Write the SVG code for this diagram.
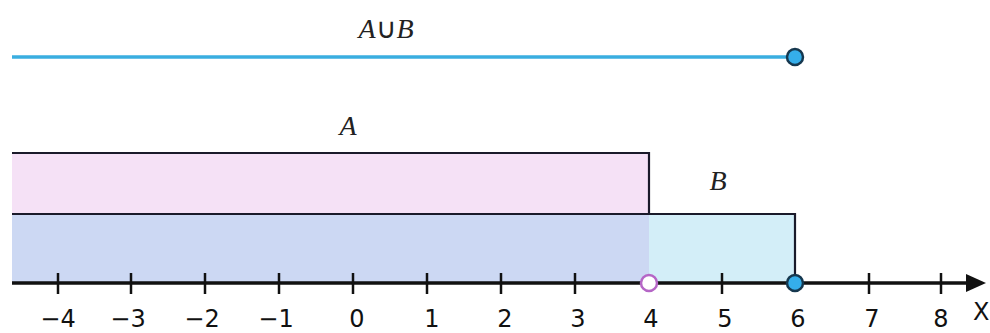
<svg xmlns="http://www.w3.org/2000/svg" width="990" height="333" viewBox="0 0 990 333">
<style>
.edge{stroke:#1a1a2a;stroke-width:2.2;fill:none}
.tick{stroke:#111;stroke-width:2.5}
.num{font-family:"DejaVu Sans",sans-serif;font-size:24px;fill:#111;text-anchor:middle}
.lbl{font-family:"Liberation Serif",serif;font-style:italic;font-size:28px;fill:#222;text-anchor:middle}
</style>
<rect width="990" height="333" fill="#fff"/>
<g id="setA">
<rect x="12" y="153" width="637" height="130" fill="#f5e1f6"/>
<path class="edge" d="M12,153 H649 V283"/>
<text class="lbl" x="348" y="135">A</text>
</g>
<g id="setB">
<rect x="12" y="214" width="637" height="69" fill="#ccd8f3"/>
<rect x="649" y="214" width="146" height="69" fill="#d3eef8"/>
<path class="edge" d="M12,214 H795 V283"/>
<text class="lbl" x="718" y="190">B</text>
</g>
<g id="union">
<line x1="12" y1="57" x2="795" y2="57" stroke="#3aaee0" stroke-width="3.5"/>
<circle cx="795" cy="57" r="8" fill="#35aeea" stroke="#16384f" stroke-width="2.5"/>
<text class="lbl" x="386" y="38">A<tspan font-style="normal">∪</tspan>B</text>
</g>
<g id="axis">
<line x1="12" y1="283" x2="970" y2="283" stroke="#111" stroke-width="3.5"/>
<path d="M966,274 L986,283 L966,292 Z" fill="#111"/>
<g class="tick">
<line x1="58" y1="273" x2="58" y2="294"/>
<line x1="131" y1="273" x2="131" y2="294"/>
<line x1="205" y1="273" x2="205" y2="294"/>
<line x1="279" y1="273" x2="279" y2="294"/>
<line x1="353" y1="273" x2="353" y2="294"/>
<line x1="427" y1="273" x2="427" y2="294"/>
<line x1="501" y1="273" x2="501" y2="294"/>
<line x1="575" y1="273" x2="575" y2="294"/>
<line x1="722" y1="273" x2="722" y2="294"/>
<line x1="869" y1="273" x2="869" y2="294"/>
<line x1="941" y1="273" x2="941" y2="294"/>
</g>
<text class="num" x="58" y="327">−4</text>
<text class="num" x="128" y="327">−3</text>
<text class="num" x="202" y="327">−2</text>
<text class="num" x="276" y="327">−1</text>
<text class="num" x="357" y="327">0</text>
<text class="num" x="432" y="327">1</text>
<text class="num" x="505" y="327">2</text>
<text class="num" x="578" y="327">3</text>
<text class="num" x="651" y="327">4</text>
<text class="num" x="725" y="327">5</text>
<text class="num" x="798" y="327">6</text>
<text class="num" x="872" y="327">7</text>
<text class="num" x="941" y="327">8</text>
<text x="973" y="320" style="font-family:'DejaVu Sans',sans-serif;font-size:24px;fill:#111">X</text>
</g>
<g id="point4">
<circle cx="649" cy="283" r="8" fill="#fff" stroke="#b566c6" stroke-width="2.5"/>
</g>
<g id="point6">
<circle cx="795" cy="283" r="8" fill="#35aeea" stroke="#16384f" stroke-width="2.5"/>
</g>
</svg>
